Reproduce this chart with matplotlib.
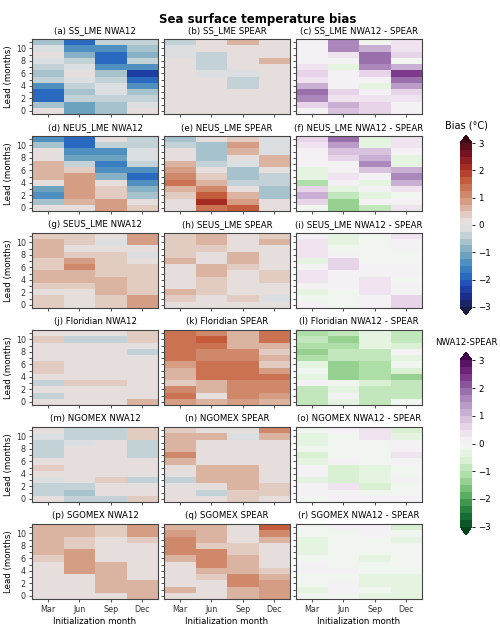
"""
Sea surface temperature bias panels: NWA12, SPEAR and their difference for six regions.
"""

import matplotlib.pyplot as plt
import numpy as np
from matplotlib.colors import BoundaryNorm, LinearSegmentedColormap

MONTHS = ["Mar", "Jun", "Sep", "Dec"]
REGIONS = ["SS_LME", "NEUS_LME", "SEUS_LME", "Floridian", "NGOMEX", "SGOMEX"]

# bias (degC), rows are lead 11 (top) down to lead 0, columns Mar/Jun/Sep/Dec
ss_nwa12 = [
    [-0.6, -1.9, -0.4, -0.4],
    [-0.1, -1.5, -1.3, -0.6],
    [0.2, -0.8, -2.0, -0.8],
    [-0.1, -0.4, -2.0, -0.4],
    [-0.4, -0.1, -1.5, -1.3],
    [-0.6, 0.2, -0.7, -2.4],
    [-0.4, -0.1, -0.4, -2.0],
    [-1.3, -0.3, -0.1, -1.3],
    [-1.9, -0.6, -0.1, -0.6],
    [-1.8, -0.4, -0.4, -0.4],
    [-0.7, -1.1, -0.6, -0.1],
    [0.0, -1.1, -0.6, 0.2],
]
ss_spear = [
    [-0.4, 0.2, 0.5, 0.0],
    [-0.1, 0.0, 0.2, 0.2],
    [-0.1, -0.4, 0.1, 0.2],
    [0.1, -0.4, 0.2, 0.5],
    [0.15, -0.4, 0.0, 0.1],
    [0.1, -0.1, -0.1, 0.1],
    [0.1, 0.1, -0.4, 0.2],
    [0.1, 0.1, -0.4, 0.0],
    [0.1, 0.0, 0.0, 0.0],
    [0.2, 0.1, 0.1, 0.0],
    [0.1, 0.0, 0.0, 0.0],
    [0.0, 0.2, 0.1, 0.1],
]
neus_nwa12 = [
    [-1.3, -1.9, 0.0, -0.4],
    [-0.6, -1.9, -0.3, -0.4],
    [0.2, -1.5, -1.5, -0.1],
    [0.2, -1.1, -1.2, -0.1],
    [0.5, -0.4, -1.7, -0.4],
    [0.5, 0.3, -1.4, -1.3],
    [0.5, 0.8, -0.8, -1.9],
    [0.2, 0.8, 0.0, -1.3],
    [-1.2, 0.8, 0.4, -1.0],
    [-1.5, 0.8, 0.3, -0.6],
    [-0.7, 0.5, 0.8, 0.1],
    [0.0, 0.0, 0.8, 0.4],
]
neus_spear = [
    [-0.7, 0.0, 0.4, -0.1],
    [-0.3, -0.6, 0.8, -0.1],
    [0.2, -0.6, 0.6, -0.1],
    [0.2, -0.6, 0.0, 0.5],
    [0.5, -0.3, -0.2, 0.7],
    [0.8, 0.2, -0.6, 0.1],
    [1.0, 0.4, -0.6, -0.3],
    [1.3, 0.6, -0.3, -0.3],
    [0.7, 1.2, 0.2, -0.7],
    [0.4, 1.6, 0.6, -0.7],
    [0.1, 2.0, 0.8, 0.0],
    [0.1, 1.4, 1.6, 0.1],
]
seus_nwa12 = [
    [0.4, 0.4, 0.1, 0.8],
    [0.7, 0.4, -0.1, 0.8],
    [0.7, 0.2, 0.1, 0.2],
    [0.6, 0.3, 0.4, -0.1],
    [0.4, 0.8, 0.4, 0.0],
    [0.3, 1.0, 0.4, 0.4],
    [0.6, 0.6, 0.3, 0.4],
    [0.6, 0.5, 0.7, 0.3],
    [0.3, 0.4, 0.7, 0.3],
    [0.1, 0.2, 0.7, 0.4],
    [0.3, 0.1, 0.4, 0.8],
    [0.4, 0.1, 0.3, 0.8],
]
seus_spear = [
    [0.3, 0.7, 0.2, 0.4],
    [0.4, 0.7, 0.2, 0.7],
    [0.4, 0.3, 0.2, 0.2],
    [0.3, 0.2, 0.5, 0.2],
    [0.7, 0.2, 0.5, 0.2],
    [0.2, 0.5, 0.4, 0.2],
    [0.2, 0.5, 0.2, 0.4],
    [0.2, 0.3, 0.2, 0.4],
    [0.2, 0.3, 0.2, 0.2],
    [0.5, 0.3, 0.2, 0.2],
    [0.4, 0.2, 0.4, -0.1],
    [0.2, 0.2, 0.2, 0.1],
]
flor_nwa12 = [
    [0.2, 0.0, 0.1, 0.4],
    [0.4, -0.4, -0.3, 0.4],
    [0.1, 0.2, 0.1, 0.0],
    [0.0, 0.1, 0.0, -0.4],
    [0.1, 0.1, 0.0, 0.1],
    [0.4, 0.0, 0.2, 0.2],
    [0.4, 0.0, 0.2, 0.2],
    [0.0, 0.0, 0.2, 0.0],
    [-0.3, 0.4, 0.4, 0.0],
    [0.1, 0.2, 0.1, 0.0],
    [-0.3, 0.2, 0.1, 0.0],
    [0.0, 0.2, 0.0, 0.5],
]
flor_spear = [
    [1.3, 1.0, 0.6, 1.3],
    [1.3, 1.7, 0.6, 1.3],
    [1.3, 1.3, 0.6, 0.6],
    [1.3, 1.0, 1.0, 0.3],
    [1.3, 1.0, 1.0, 0.6],
    [0.8, 1.3, 1.3, 0.3],
    [0.5, 1.3, 1.3, 0.8],
    [0.5, 1.3, 1.3, 1.3],
    [0.3, 0.6, 1.0, 1.0],
    [1.0, 0.6, 1.0, 1.0],
    [1.3, 0.2, 1.0, 0.8],
    [0.8, 0.6, 0.8, 0.7],
]
ngom_nwa12 = [
    [0.1, -0.4, -0.4, 0.4],
    [-0.1, -0.4, -0.4, 0.4],
    [-0.3, -0.1, 0.0, -0.4],
    [-0.4, 0.0, 0.0, -0.4],
    [-0.4, 0.0, 0.0, -0.4],
    [0.2, 0.1, 0.0, 0.0],
    [0.3, 0.0, 0.0, 0.0],
    [0.1, 0.0, 0.1, 0.0],
    [-0.1, 0.0, 0.3, -0.3],
    [-0.3, -0.4, 0.1, 0.1],
    [-0.3, -0.6, 0.1, 0.1],
    [0.0, -0.3, -0.3, 0.4],
]
ngom_spear = [
    [0.3, 0.2, 0.1, 1.0],
    [0.6, 0.5, -0.1, 0.7],
    [0.6, 0.2, 0.2, 0.2],
    [0.6, 0.2, 0.2, 0.2],
    [1.0, 0.2, 0.2, 0.0],
    [0.6, 0.1, 0.2, 0.0],
    [0.1, 0.7, 0.5, 0.2],
    [0.1, 0.7, 0.5, 0.2],
    [-0.4, 0.7, 0.7, 0.2],
    [0.1, 0.1, 0.7, 0.3],
    [0.1, -0.4, 0.3, 0.3],
    [0.1, 0.1, 0.3, 0.2],
]
sgom_nwa12 = [
    [0.5, 0.5, 0.3, 0.9],
    [0.7, 0.5, 0.3, 0.9],
    [0.7, 0.4, 0.0, 0.3],
    [0.7, 0.3, 0.1, 0.0],
    [0.7, 0.8, 0.1, 0.0],
    [0.4, 0.8, 0.1, 0.0],
    [0.2, 0.8, 0.5, 0.0],
    [0.0, 0.8, 0.5, 0.2],
    [0.0, 0.2, 0.5, 0.2],
    [0.0, 0.2, 0.5, 0.5],
    [0.0, 0.0, 0.5, 0.5],
    [0.1, 0.0, 0.1, 0.5],
]
sgom_spear = [
    [0.6, 0.5, 0.2, 1.6],
    [0.9, 0.6, 0.2, 1.1],
    [1.0, 0.6, 0.2, 0.6],
    [1.0, 0.4, 0.3, 0.2],
    [1.0, 1.0, 0.3, 0.2],
    [0.5, 1.0, 0.6, 0.2],
    [0.2, 1.0, 0.6, 0.2],
    [0.0, 0.6, 0.6, 0.3],
    [0.2, 0.4, 1.0, 0.5],
    [0.2, 0.2, 1.0, 0.8],
    [0.5, 0.0, 0.6, 0.8],
    [0.2, 0.1, 0.6, 0.8],
]

NWA12 = [ss_nwa12, neus_nwa12, seus_nwa12, flor_nwa12, ngom_nwa12, sgom_nwa12]
SPEAR = [ss_spear, neus_spear, seus_spear, flor_spear, ngom_spear, sgom_spear]

# cmocean "balance"-like map, anchored by bias value
anchors = [
    (-3.0, "#181c43"), (-2.5, "#1b2f8f"), (-2.0, "#1f57c0"), (-1.5, "#3a83c0"),
    (-1.0, "#78a8c0"), (-0.5, "#b2c9d0"), (-0.2, "#d6dde0"), (0.0, "#e3e3e3"),
    (0.2, "#e6dad5"), (0.5, "#ddbcad"), (1.0, "#d28e72"), (1.5, "#c6603e"),
    (2.0, "#aa2e23"), (2.5, "#76121f"), (3.0, "#3c0912"),
]
balance = LinearSegmentedColormap.from_list(
    "balance", [((v + 3) / 6, col) for v, col in anchors]
)
levels = np.arange(-3, 3.01, 0.25)
bias_norm = BoundaryNorm(levels, 256, extend="both")
diff_cmap = plt.get_cmap("PRGn_r")

W, H = 500, 626
fig = plt.figure(figsize=(W / 100, H / 100), dpi=100)
fig.text(0.515, 1 - 20 / H, "Sea surface temperature bias", ha="center",
         va="center", fontsize=8.5, fontweight="bold")

col_left = [32, 164, 296]
panel_w, panel_h = 126, 75
row_top = 39
row_step = 97
letters = "abcdefghijklmnopqr"

xedges = np.arange(5) - 0.5
yedges = np.arange(13) - 0.5
mesh_bias = None
mesh_diff = None

for r, region in enumerate(REGIONS):
    nwa = np.flipud(np.array(NWA12[r]))
    spr = np.flipud(np.array(SPEAR[r]))
    diff = np.abs(nwa) - np.abs(spr)
    fields = [nwa, spr, diff]
    names = ["NWA12", "SPEAR", "NWA12 - SPEAR"]
    for c in range(3):
        top = row_top + r * row_step
        ax = fig.add_axes([col_left[c] / W, 1 - (top + panel_h) / H,
                           panel_w / W, panel_h / H])
        if c < 2:
            m = ax.pcolormesh(xedges, yedges, fields[c], cmap=balance, norm=bias_norm)
            mesh_bias = m
        else:
            m = ax.pcolormesh(xedges, yedges, fields[c], cmap=diff_cmap, norm=bias_norm)
            mesh_diff = m
        ax.set_title(f"({letters[r * 3 + c]}) {region} {names[c]}", fontsize=6.2, pad=4)
        ax.set_xlim(-0.5, 3.5)
        ax.set_ylim(-0.5, 11.5)
        ax.set_xticks(np.arange(4))
        ax.set_yticks(np.arange(12))
        ax.tick_params(labelsize=5.8, length=2.5, width=0.6, pad=2, colors="#333333")
        for s in ax.spines.values():
            s.set_color("#444444")
            s.set_linewidth(0.8)
        if c == 0:
            ax.set_yticklabels([str(v) if v % 2 == 0 else "" for v in range(12)])
            ax.set_ylabel("Lead (months)", fontsize=6.2, labelpad=2)
        else:
            ax.set_yticklabels([])
        if r == len(REGIONS) - 1:
            ax.set_xticklabels(MONTHS)
            ax.set_xlabel("Initialization month", fontsize=6.2, labelpad=2)
        else:
            ax.set_xticklabels([])

cax1 = fig.add_axes([460 / W, 1 - 315 / H, 12 / W, 180 / H])
cb1 = fig.colorbar(mesh_bias, cax=cax1, extend="both", ticks=np.arange(-3, 4))
cb1.ax.set_title("Bias (°C)", fontsize=7, pad=5)
cax2 = fig.add_axes([460 / W, 1 - 535 / H, 12 / W, 183 / H])
cb2 = fig.colorbar(mesh_diff, cax=cax2, extend="both", ticks=np.arange(-3, 4))
cb2.ax.set_title("NWA12-SPEAR", fontsize=6.2, pad=5)
for cb in (cb1, cb2):
    cb.ax.tick_params(labelsize=6.2, length=2.5, width=0.6, pad=2)
    cb.outline.set_visible(False)
    cb.ax.minorticks_off()

fig.savefig("out.png", dpi=100)
